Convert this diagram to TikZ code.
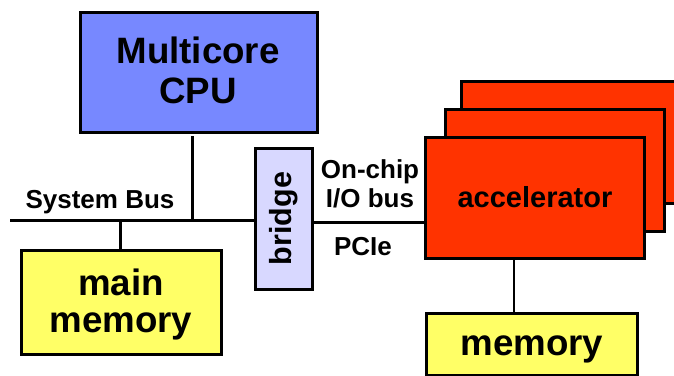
\documentclass[tikz,border=0pt]{standalone}
\usepackage{fontspec}
\setmainfont{Liberation Sans}
\definecolor{cpublue}{RGB}{119,136,255}
\definecolor{bridgelav}{RGB}{216,216,255}
\definecolor{accred}{RGB}{255,51,0}
\definecolor{memyellow}{RGB}{255,255,102}
\begin{document}
\begin{tikzpicture}[x=1pt,y=-1pt,
  box/.style={draw=black,line width=3pt,rectangle,inner sep=0pt,outer sep=0pt,anchor=north west},
  bigtxt/.style={font=\fontsize{36.7}{37}\selectfont\bfseries,inner sep=0pt,anchor=base},
  lbl/.style={font=\fontsize{26}{28}\selectfont\bfseries,inner sep=0pt,anchor=base},
  bus/.style={line width=3pt},
  thinbus/.style={line width=1.5pt}]
\clip (0,0) rectangle (674,375);
\useasboundingbox (0,0) rectangle (674,375);

% host side
\node[box,fill=cpublue,minimum width=237pt,minimum height=120pt] (cpu) at (80,12) {};
\node[bigtxt] (cpuA) at (198,63) {Multicore};
\node[bigtxt] (cpuB) at (198,103) {CPU};
\node[box,fill=memyellow,minimum width=200pt,minimum height=104pt] (mainmem) at (21,250) {};
\node[bigtxt] (mmA) at (121,295) {main};
\node[bigtxt] (mmB) at (121,332) {memory};
\node[box,fill=bridgelav,minimum width=57pt,minimum height=141pt] (bridge) at (255,148) {};
\node[font=\fontsize{30.5}{32}\selectfont\bfseries,rotate=90] (bridgetxt) at (bridge.center) {bridge};

% system bus
\coordinate (busL) at (10,220);
\coordinate (cpuJ) at (192,220);
\coordinate (memJ) at (120,220);
\draw[bus] (busL) -- (bridge.west |- busL);
\draw[bus] (cpu.south -| cpuJ) ++(0,4) -- (cpuJ);
\draw[bus] (memJ) -- (mainmem.north -| memJ);
\node[lbl] (sysbus) at (100,208) {System Bus};

% accelerator stack
\node[box,fill=accred,minimum width=260pt,minimum height=122pt] (acc3) at (461,81) {};
\node[box,fill=accred,minimum width=219pt,minimum height=122pt] (acc2) at (445,109) {};
\node[box,fill=accred,minimum width=219pt,minimum height=121pt] (acc) at (425,137) {};
\node[font=\fontsize{29}{30}\selectfont\bfseries,inner sep=0pt,anchor=base] (acctxt) at (535,207) {accelerator};

% device memory
\node[box,fill=memyellow,minimum width=211pt,minimum height=62pt] (devmem) at (426,313) {};
\node[bigtxt] (devtxt) at (532,355) {memory};

% I/O links
\draw[bus] (bridge.east |- 0,222) -- (acc.west |- 0,222);
\draw[thinbus] (acc.south -| 514,0) -- (devmem.north -| 514,0);
\node[lbl] (onchip) at (370,178) {On-chip};
\node[lbl] (iobus) at (370,207) {I/O bus};
\node[lbl] (pcie) at (363,255) {PCIe};
\end{tikzpicture}
\end{document}
